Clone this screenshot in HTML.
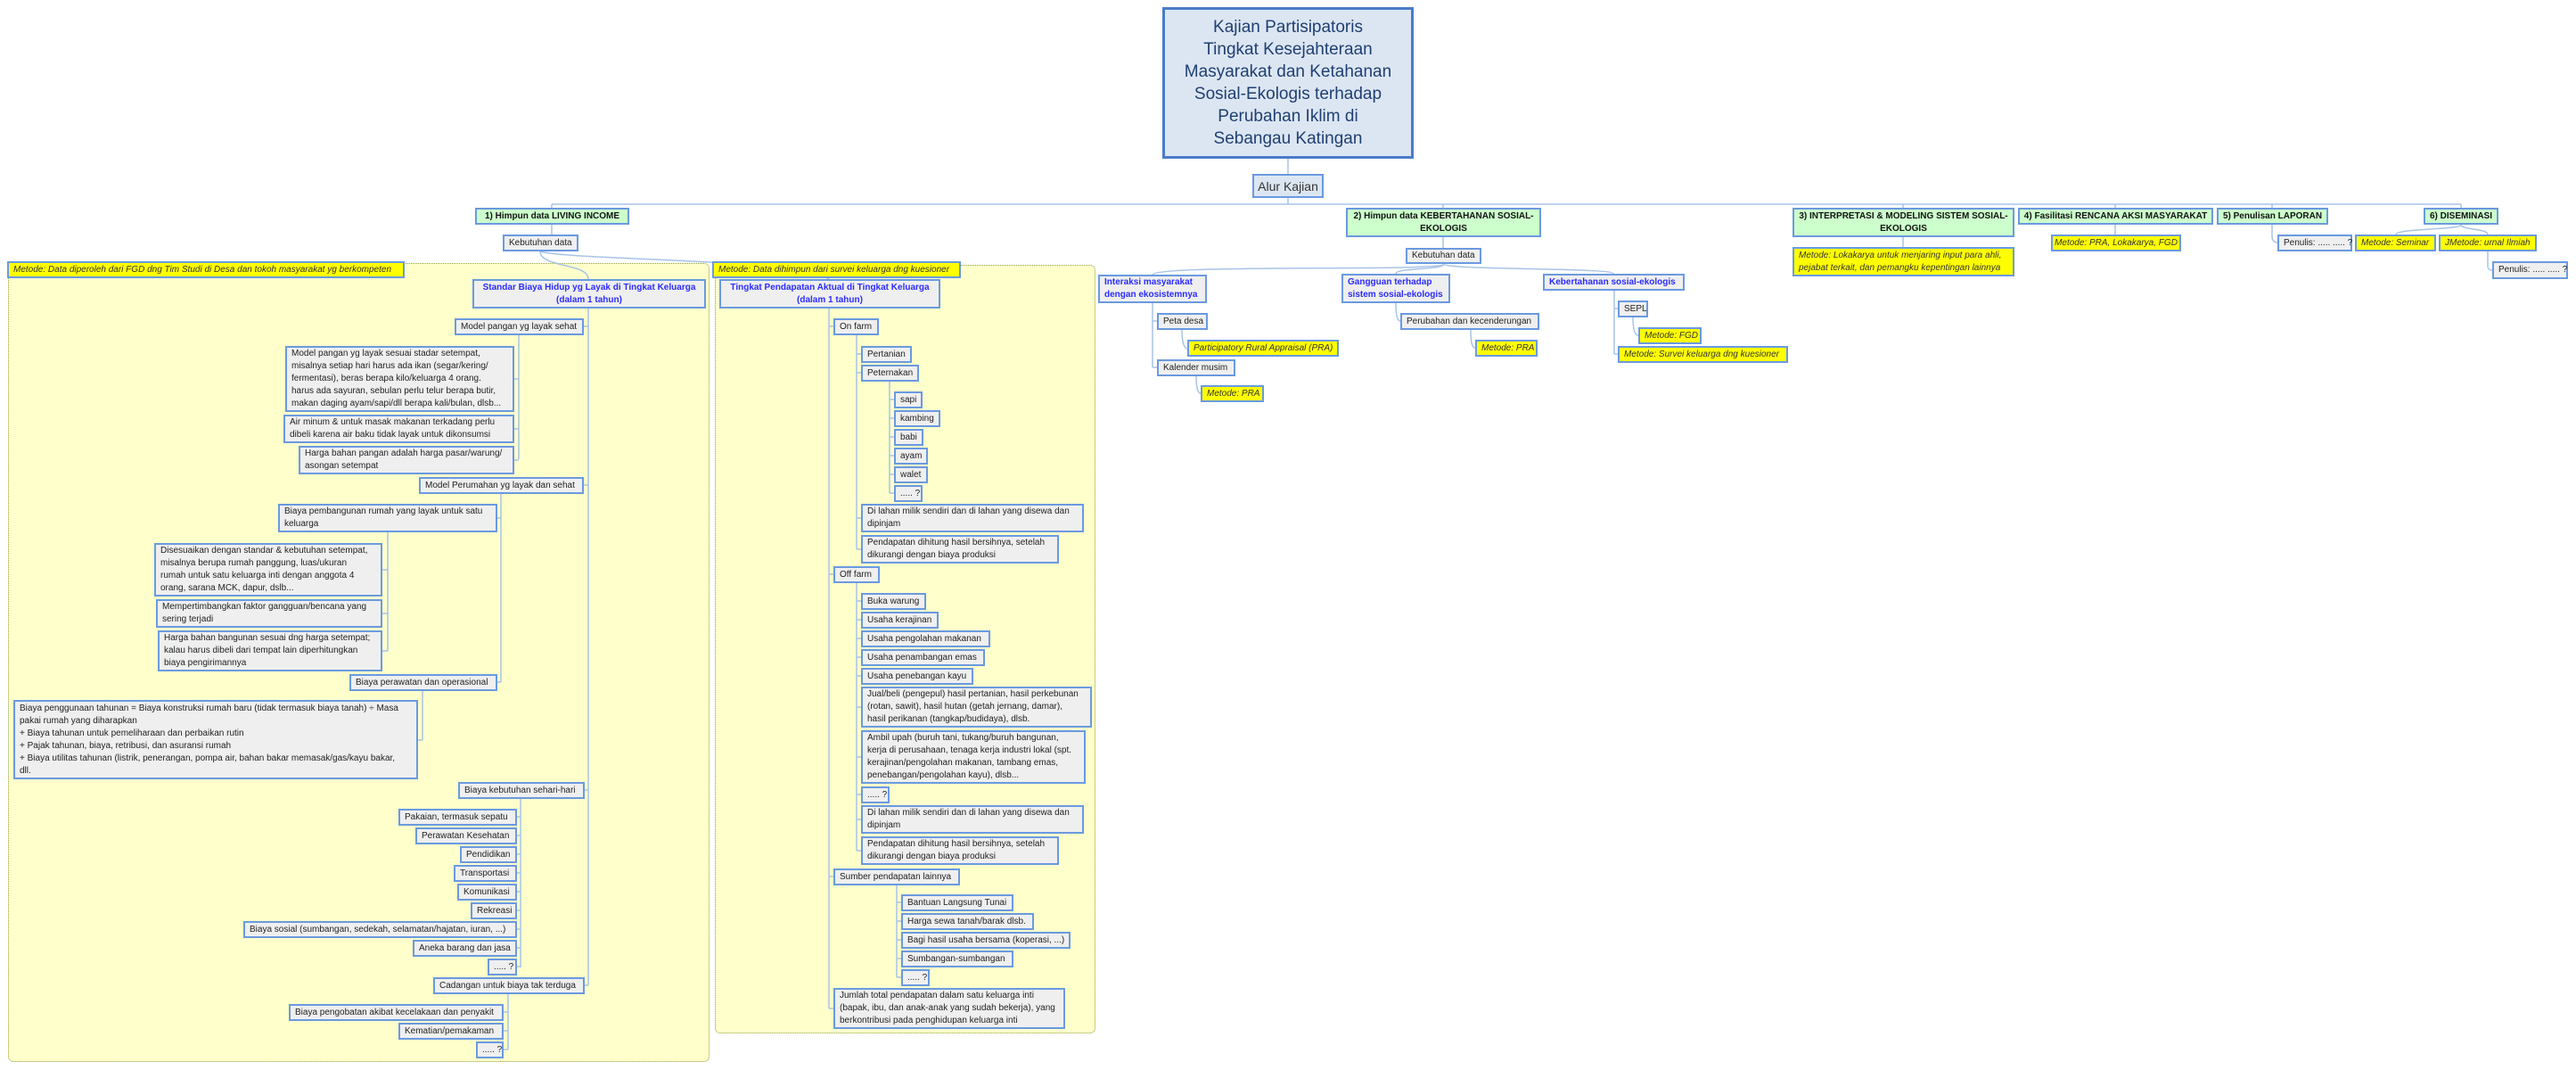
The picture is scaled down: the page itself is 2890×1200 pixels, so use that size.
<!DOCTYPE html>
<html><head><meta charset="utf-8"><style>
html,body{margin:0;padding:0;background:#fff;}
#c{position:relative;width:2890px;height:1200px;overflow:hidden;font-family:"Liberation Sans",Arial,sans-serif;}
.p{position:absolute;background:#ffffcc;border:1.5px dotted #8f9f45;border-radius:6px;box-sizing:border-box;}
.b{position:absolute;box-sizing:border-box;border:2px solid #6a9ae0;background:#efefef;color:#222;font-size:10px;line-height:14px;padding:0 5px;display:flex;align-items:center;white-space:nowrap;}
.y{background:#ffff00;font-style:italic;color:#333;}
.g{background:#ccffcc;font-weight:bold;color:#111;justify-content:center;text-align:center;}
.t{color:#2b2bff;font-weight:bold;justify-content:center;text-align:center;}
.tl{color:#2b2bff;font-weight:bold;}
svg{position:absolute;left:0;top:0;}
</style></head><body><div id="c">
<div class="p" style="left:9px;top:295px;width:787px;height:896px"></div>
<div class="p" style="left:802px;top:297px;width:427px;height:862px"></div>
<svg width="2890" height="1200" fill="none" stroke="#a8c3e6" stroke-width="1.5">
<path d="M1445 178V195M1445 222V229M619 229H2761M619 229V233M1619 229V233M2135 229V233M2373 229V233M2549 229V233M2761 229V233"/>
<path d="M619 252V263M606 282C606 300 660 295 660 313M606 282C640 292 900 290 930 313"/>
<path d="M660 346V1105M660 366H655M660 544H655M660 886H656M660 1105H656"/>
<path d="M582 375V515M582 425H577M582 481H577M582 516H577"/>
<path d="M562 553V765M562 581H558M562 765H558"/>
<path d="M435 597V730M435 639H429M435 688H429M435 730H429"/>
<path d="M474 774V830M474 830H469"/>
<path d="M584 896V1085M584 916H580M584 937H580M584 958H580M584 979H580M584 1000H580M584 1021H580M584 1042H580M584 1063H580M584 1084H580"/>
<path d="M570 1114V1177M570 1135H565M570 1156H565M570 1177H565"/>
<path d="M930 346V1131M930 366H935M930 644H935M930 983H935M930 1131H935"/>
<path d="M961 376V616M961 397H966M961 418H966M961 581H966M961 616H966"/>
<path d="M998 428V553M998 448H1003M998 469H1003M998 490H1003M998 511H1003M998 532H1003M998 553H1003"/>
<path d="M961 654V954M961 674H966M961 695H966M961 716H966M961 737H966M961 758H966M961 793H966M961 849H966M961 891H966M961 919H966M961 954H966"/>
<path d="M1006 993V1096M1006 1012H1011M1006 1033H1011M1006 1054H1011M1006 1075H1011M1006 1096H1011"/>
<path d="M1619 266V278M1620 296C1620 305 1300 296 1293 308M1620 296C1620 303 1566 300 1566 307M1620 296C1620 303 1810 300 1810 307"/>
<path d="M1293 340V412M1293 360H1298M1293 412H1298M1326 370C1326 388 1330 391 1332 391M1342 422C1342 438 1345 441 1347 441"/>
<path d="M1566 340C1566 355 1568 360 1571 360M1650 370C1650 386 1652 390 1655 390M1811 326V397M1811 346H1815M1811 397H1815M1832 356C1832 372 1835 376 1838 376"/>
<path d="M2135 266V277M2373 252V263M2549 252V265C2549 270 2552 272 2555 272M2761 252C2761 258 2688 256 2688 263M2761 252C2761 258 2791 256 2791 263M2791 282V298C2791 302 2793 303 2796 303"/>
</svg>
<div class="b" style="left:1304px;top:8px;width:282px;height:170px;background:#dce6f2;border:3px solid #4a7cc9;color:#1f3f73;font-size:19px;line-height:25px;justify-content:center;text-align:center;white-space:normal">Kajian Partisipatoris<br>Tingkat Kesejahteraan<br>Masyarakat dan Ketahanan<br>Sosial-Ekologis terhadap<br>Perubahan Iklim di<br>Sebangau Katingan</div>
<div class="b" style="left:1405px;top:195px;width:80px;height:27px;background:#dce6f2;font-size:14px;color:#333;justify-content:center">Alur Kajian</div>

<div class="b g" style="left:533px;top:233px;width:173px;height:19px">1) Himpun data LIVING INCOME</div>
<div class="b g" style="left:1510px;top:233px;width:219px;height:33px">2) Himpun data KEBERTAHANAN SOSIAL-<br>EKOLOGIS</div>
<div class="b g" style="left:2011px;top:233px;width:249px;height:33px">3) INTERPRETASI &amp; MODELING SISTEM SOSIAL-<br>EKOLOGIS</div>
<div class="b g" style="left:2264px;top:233px;width:219px;height:19px">4) Fasilitasi RENCANA AKSI MASYARAKAT</div>
<div class="b g" style="left:2487px;top:233px;width:125px;height:19px">5) Penulisan LAPORAN</div>
<div class="b g" style="left:2719px;top:233px;width:84px;height:19px">6) DISEMINASI</div>

<div class="b" style="left:564px;top:263px;width:85px;height:19px">Kebutuhan data</div>
<div class="b y" style="left:8px;top:293px;width:446px;height:19px">Metode: Data diperoleh dari FGD dng Tim Studi di Desa dan tokoh masyarakat yg berkompeten</div>
<div class="b y" style="left:799px;top:293px;width:279px;height:19px">Metode: Data dihimpun dari survei keluarga dng kuesioner</div>
<div class="b t" style="left:530px;top:313px;width:262px;height:33px">Standar Biaya Hidup yg Layak di Tingkat Keluarga<br>(dalam 1 tahun)</div>
<div class="b t" style="left:807px;top:313px;width:248px;height:33px">Tingkat Pendapatan Aktual di Tingkat Keluarga<br>(dalam 1 tahun)</div>

<div class="b" style="left:510px;top:357px;width:145px;height:19px">Model pangan yg layak sehat</div>
<div class="b" style="left:320px;top:388px;width:257px;height:74px">Model pangan yg layak sesuai stadar setempat,<br>misalnya setiap hari harus ada ikan (segar/kering/<br>fermentasi), beras berapa kilo/keluarga 4 orang.<br>harus ada sayuran, sebulan perlu telur berapa butir,<br>makan daging ayam/sapi/dll berapa kali/bulan, dlsb...</div>
<div class="b" style="left:318px;top:465px;width:259px;height:32px">Air minum &amp; untuk masak makanan terkadang perlu<br>dibeli karena air baku tidak layak untuk dikonsumsi</div>
<div class="b" style="left:335px;top:500px;width:242px;height:32px">Harga bahan pangan adalah harga pasar/warung/<br>asongan setempat</div>
<div class="b" style="left:470px;top:535px;width:185px;height:19px">Model Perumahan yg layak dan sehat</div>
<div class="b" style="left:312px;top:565px;width:246px;height:32px">Biaya pembangunan rumah yang layak untuk satu<br>keluarga</div>
<div class="b" style="left:173px;top:609px;width:256px;height:60px">Disesuaikan dengan standar &amp; kebutuhan setempat,<br>misalnya berupa rumah panggung, luas/ukuran<br>rumah untuk satu keluarga inti dengan anggota 4<br>orang, sarana MCK, dapur, dslb...</div>
<div class="b" style="left:175px;top:672px;width:254px;height:32px">Mempertimbangkan faktor gangguan/bencana yang<br>sering terjadi</div>
<div class="b" style="left:177px;top:707px;width:252px;height:46px">Harga bahan bangunan sesuai dng harga setempat;<br>kalau harus dibeli dari tempat lain diperhitungkan<br>biaya pengirimannya</div>
<div class="b" style="left:392px;top:756px;width:166px;height:19px">Biaya perawatan dan operasional</div>
<div class="b" style="left:15px;top:785px;width:454px;height:89px">Biaya penggunaan tahunan = Biaya konstruksi rumah baru (tidak termasuk biaya tanah) ÷ Masa<br>pakai rumah yang diharapkan<br>+ Biaya tahunan untuk pemeliharaan dan perbaikan rutin<br>+ Pajak tahunan, biaya, retribusi, dan asuransi rumah<br>+ Biaya utilitas tahunan (listrik, penerangan, pompa air, bahan bakar memasak/gas/kayu bakar,<br>dll.</div>
<div class="b" style="left:514px;top:877px;width:142px;height:19px">Biaya kebutuhan sehari-hari</div>
<div class="b" style="left:447px;top:907px;width:133px;height:19px">Pakaian, termasuk sepatu</div>
<div class="b" style="left:466px;top:928px;width:114px;height:19px">Perawatan Kesehatan</div>
<div class="b" style="left:516px;top:949px;width:64px;height:19px">Pendidikan</div>
<div class="b" style="left:509px;top:970px;width:71px;height:19px">Transportasi</div>
<div class="b" style="left:513px;top:991px;width:67px;height:19px">Komunikasi</div>
<div class="b" style="left:528px;top:1012px;width:52px;height:19px">Rekreasi</div>
<div class="b" style="left:273px;top:1033px;width:307px;height:19px">Biaya sosial (sumbangan, sedekah, selamatan/hajatan, iuran, ...)</div>
<div class="b" style="left:463px;top:1054px;width:117px;height:19px">Aneka barang dan jasa</div>
<div class="b" style="left:547px;top:1075px;width:33px;height:19px">..... ?</div>
<div class="b" style="left:486px;top:1096px;width:170px;height:19px">Cadangan untuk biaya tak terduga</div>
<div class="b" style="left:324px;top:1126px;width:241px;height:19px">Biaya pengobatan akibat kecelakaan dan penyakit</div>
<div class="b" style="left:447px;top:1147px;width:118px;height:19px">Kematian/pemakaman</div>
<div class="b" style="left:534px;top:1168px;width:31px;height:19px">..... ?</div>

<div class="b" style="left:935px;top:357px;width:51px;height:19px">On farm</div>
<div class="b" style="left:966px;top:388px;width:57px;height:19px">Pertanian</div>
<div class="b" style="left:966px;top:409px;width:65px;height:19px">Peternakan</div>
<div class="b" style="left:1003px;top:439px;width:32px;height:19px">sapi</div>
<div class="b" style="left:1003px;top:460px;width:52px;height:19px">kambing</div>
<div class="b" style="left:1003px;top:481px;width:33px;height:19px">babi</div>
<div class="b" style="left:1003px;top:502px;width:38px;height:19px">ayam</div>
<div class="b" style="left:1003px;top:523px;width:38px;height:19px">walet</div>
<div class="b" style="left:1003px;top:544px;width:32px;height:19px">..... ?</div>
<div class="b" style="left:966px;top:565px;width:250px;height:32px">Di lahan milik sendiri dan di lahan yang disewa dan<br>dipinjam</div>
<div class="b" style="left:966px;top:600px;width:222px;height:32px">Pendapatan dihitung hasil bersihnya, setelah<br>dikurangi dengan biaya produksi</div>
<div class="b" style="left:935px;top:635px;width:52px;height:19px">Off farm</div>
<div class="b" style="left:966px;top:665px;width:73px;height:19px">Buka warung</div>
<div class="b" style="left:966px;top:686px;width:87px;height:19px">Usaha kerajinan</div>
<div class="b" style="left:966px;top:707px;width:145px;height:19px">Usaha pengolahan makanan</div>
<div class="b" style="left:966px;top:728px;width:139px;height:19px">Usaha penambangan emas</div>
<div class="b" style="left:966px;top:749px;width:126px;height:19px">Usaha penebangan kayu</div>
<div class="b" style="left:966px;top:770px;width:259px;height:46px">Jual/beli (pengepul) hasil pertanian, hasil perkebunan<br>(rotan, sawit), hasil hutan (getah jernang, damar),<br>hasil perikanan (tangkap/budidaya), dlsb.</div>
<div class="b" style="left:966px;top:819px;width:252px;height:60px">Ambil upah (buruh tani, tukang/buruh bangunan,<br>kerja di perusahaan, tenaga kerja industri lokal (spt.<br>kerajinan/pengolahan makanan, tambang emas,<br>penebangan/pengolahan kayu), dlsb...</div>
<div class="b" style="left:966px;top:882px;width:32px;height:19px">..... ?</div>
<div class="b" style="left:966px;top:903px;width:250px;height:32px">Di lahan milik sendiri dan di lahan yang disewa dan<br>dipinjam</div>
<div class="b" style="left:966px;top:938px;width:222px;height:32px">Pendapatan dihitung hasil bersihnya, setelah<br>dikurangi dengan biaya produksi</div>
<div class="b" style="left:935px;top:974px;width:142px;height:19px">Sumber pendapatan lainnya</div>
<div class="b" style="left:1011px;top:1003px;width:126px;height:19px">Bantuan Langsung Tunai</div>
<div class="b" style="left:1011px;top:1024px;width:149px;height:19px">Harga sewa tanah/barak dlsb.</div>
<div class="b" style="left:1011px;top:1045px;width:190px;height:19px">Bagi hasil usaha bersama (koperasi, ...)</div>
<div class="b" style="left:1011px;top:1066px;width:126px;height:19px">Sumbangan-sumbangan</div>
<div class="b" style="left:1011px;top:1087px;width:32px;height:19px">..... ?</div>
<div class="b" style="left:935px;top:1108px;width:260px;height:46px">Jumlah total pendapatan dalam satu keluarga inti<br>(bapak, ibu, dan anak-anak yang sudah bekerja), yang<br>berkontribusi pada penghidupan keluarga inti</div>

<div class="b" style="left:1577px;top:278px;width:85px;height:18px">Kebutuhan data</div>
<div class="b tl" style="left:1232px;top:308px;width:122px;height:32px">Interaksi masyarakat<br>dengan ekosistemnya</div>
<div class="b" style="left:1298px;top:351px;width:57px;height:19px">Peta desa</div>
<div class="b y" style="left:1332px;top:381px;width:170px;height:19px">Participatory Rural Appraisal (PRA)</div>
<div class="b" style="left:1298px;top:403px;width:88px;height:19px">Kalender musim</div>
<div class="b y" style="left:1347px;top:432px;width:71px;height:19px">Metode: PRA</div>
<div class="b tl" style="left:1505px;top:307px;width:122px;height:33px">Gangguan terhadap<br>sistem sosial-ekologis</div>
<div class="b" style="left:1571px;top:351px;width:156px;height:19px">Perubahan dan kecenderungan</div>
<div class="b y" style="left:1655px;top:381px;width:70px;height:19px">Metode: PRA</div>
<div class="b tl" style="left:1731px;top:307px;width:159px;height:19px">Kebertahanan sosial-ekologis</div>
<div class="b" style="left:1815px;top:337px;width:34px;height:19px">SEPL</div>
<div class="b y" style="left:1838px;top:367px;width:71px;height:19px">Metode: FGD</div>
<div class="b y" style="left:1815px;top:388px;width:191px;height:19px">Metode: Survei keluarga dng kuesioner</div>

<div class="b y" style="left:2011px;top:277px;width:249px;height:33px">Metode: Lokakarya untuk menjaring input para ahli,<br>pejabat terkait, dan pemangku kepentingan lainnya</div>
<div class="b y" style="left:2301px;top:263px;width:146px;height:19px;justify-content:center">Metode: PRA, Lokakarya, FGD</div>
<div class="b" style="left:2555px;top:263px;width:84px;height:19px">Penulis: ..... ..... ?</div>
<div class="b y" style="left:2642px;top:263px;width:91px;height:19px">Metode: Seminar</div>
<div class="b y" style="left:2736px;top:263px;width:110px;height:19px">JMetode: urnal Ilmiah</div>
<div class="b" style="left:2796px;top:293px;width:85px;height:20px">Penulis: ..... ..... ?</div>
</div></body></html>
